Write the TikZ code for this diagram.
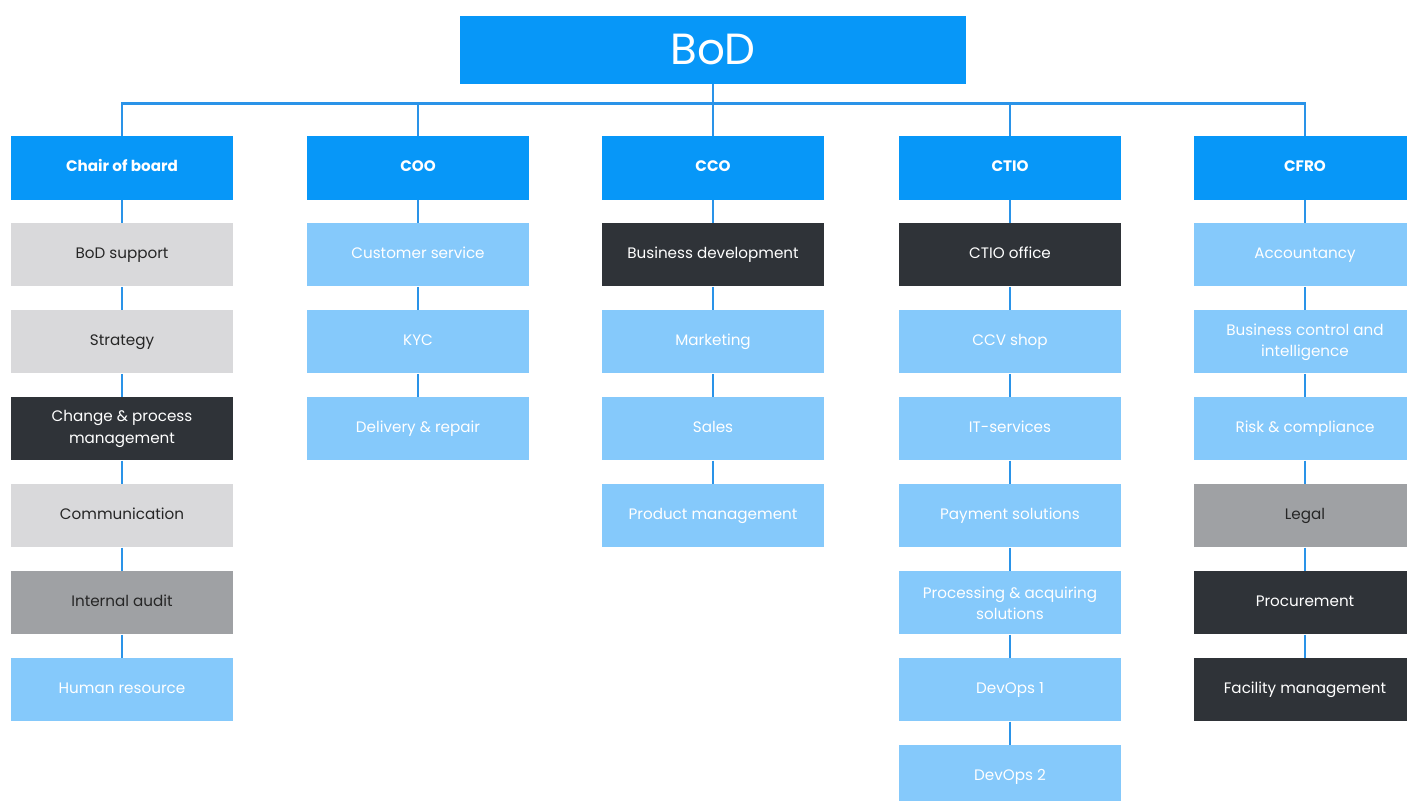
\documentclass[tikz,border=0pt]{standalone}
\usepackage{fontspec}
\setmainfont{Poppins}
\usepackage{xcolor}
\definecolor{headblue}{HTML}{0797F8}
\definecolor{lightblue}{HTML}{85C9FB}
\definecolor{darkbox}{HTML}{2F3338}
\definecolor{lightgrey}{HTML}{D9D9DB}
\definecolor{midgrey}{HTML}{9FA1A4}
\definecolor{linkblue}{HTML}{2A93E8}
\usepackage{tikz}
\usetikzlibrary{positioning}
\tikzset{
  ubox/.style ={rectangle, minimum width=5.55cm, minimum height=1.575cm, inner sep=2pt,
                align=center, font=\fontsize{10.8}{15}\selectfont, draw=none,
                text height=8pt, text depth=2.4pt},
  multi/.style={text height={}, text depth={}},
  headbox/.style={ubox, fill=headblue, text=white, font=\bfseries\fontsize{10.8}{15}\selectfont},
  lbbox/.style={ubox, fill=lightblue, text=white},
  dkbox/.style={ubox, fill=darkbox, text=white},
  lgbox/.style={ubox, fill=lightgrey, text=black!85},
  mgbox/.style={ubox, fill=midgrey, text=black!85},
  conn/.style ={draw=linkblue, line width=2pt},
}
\begin{document}
\begin{tikzpicture}[x=0.025cm, y=-0.025cm, node distance=5.85mm]
  \useasboundingbox (0,0) rectangle (1407,801);
  \clip (0,0) rectangle (1407,801);
  \fill[white] (0,0) rectangle (1407,801);

  \node[headbox, multi, minimum width=12.65cm, minimum height=1.7cm, font=\fontsize{31}{34}\selectfont] (bod) at (713,50) {BoD};

  % column heads
  \node[headbox] (chair) at (122,168) {Chair of board};
  \node[headbox] (coo)   at (418,168) {COO};
  \node[headbox] (cco)   at (713,168) {CCO};
  \node[headbox] (ctio)  at (1010,168) {CTIO};
  \node[headbox] (cfro)  at (1305,168) {CFRO};

  % chair of board
  \node[lgbox, below=of chair] (bodsup) {BoD support};
  \node[lgbox, below=of bodsup] (strat) {Strategy};
  \node[dkbox, multi, below=of strat] (change) {Change \& process\\management};
  \node[lgbox, below=of change] (comm) {Communication};
  \node[mgbox, below=of comm] (audit) {Internal audit};
  \node[lbbox, below=of audit] (hr) {Human resource};

  % coo
  \node[lbbox, below=of coo] (cust) {Customer service};
  \node[lbbox, below=of cust] (kyc) {KYC};
  \node[lbbox, below=of kyc] (deliv) {Delivery \& repair};

  % cco
  \node[dkbox, below=of cco] (busdev) {Business development};
  \node[lbbox, below=of busdev] (mark) {Marketing};
  \node[lbbox, below=of mark] (sales) {Sales};
  \node[lbbox, below=of sales] (prodm) {Product management};

  % ctio
  \node[dkbox, below=of ctio] (office) {CTIO office};
  \node[lbbox, below=of office] (ccv) {CCV shop};
  \node[lbbox, below=of ccv] (itserv) {IT-services};
  \node[lbbox, below=of itserv] (pay) {Payment solutions};
  \node[lbbox, multi, below=of pay] (proc) {Processing \& acquiring\\solutions};
  \node[lbbox, below=of proc] (dev1) {DevOps 1};
  \node[lbbox, below=of dev1] (dev2) {DevOps 2};

  % cfro
  \node[lbbox, below=of cfro] (acc) {Accountancy};
  \node[lbbox, multi, below=of acc] (bci) {Business control and\\intelligence};
  \node[lbbox, below=of bci] (risk) {Risk \& compliance};
  \node[mgbox, below=of risk] (legal) {Legal};
  \node[dkbox, below=of legal] (procur) {Procurement};
  \node[dkbox, below=of procur] (facil) {Facility management};

  % links
  \foreach \h in {chair,coo,cco,ctio,cfro}
    \draw[conn] (bod.south) -- ++(0,19) -| (\h.north);
  \foreach \a/\b in {chair/bodsup,bodsup/strat,strat/change,change/comm,comm/audit,audit/hr,
                     coo/cust,cust/kyc,kyc/deliv,
                     cco/busdev,busdev/mark,mark/sales,sales/prodm,
                     ctio/office,office/ccv,ccv/itserv,itserv/pay,pay/proc,proc/dev1,dev1/dev2,
                     cfro/acc,acc/bci,bci/risk,risk/legal,legal/procur,procur/facil}
    \draw[conn] (\a.south) -- (\b.north);
\end{tikzpicture}
\end{document}
